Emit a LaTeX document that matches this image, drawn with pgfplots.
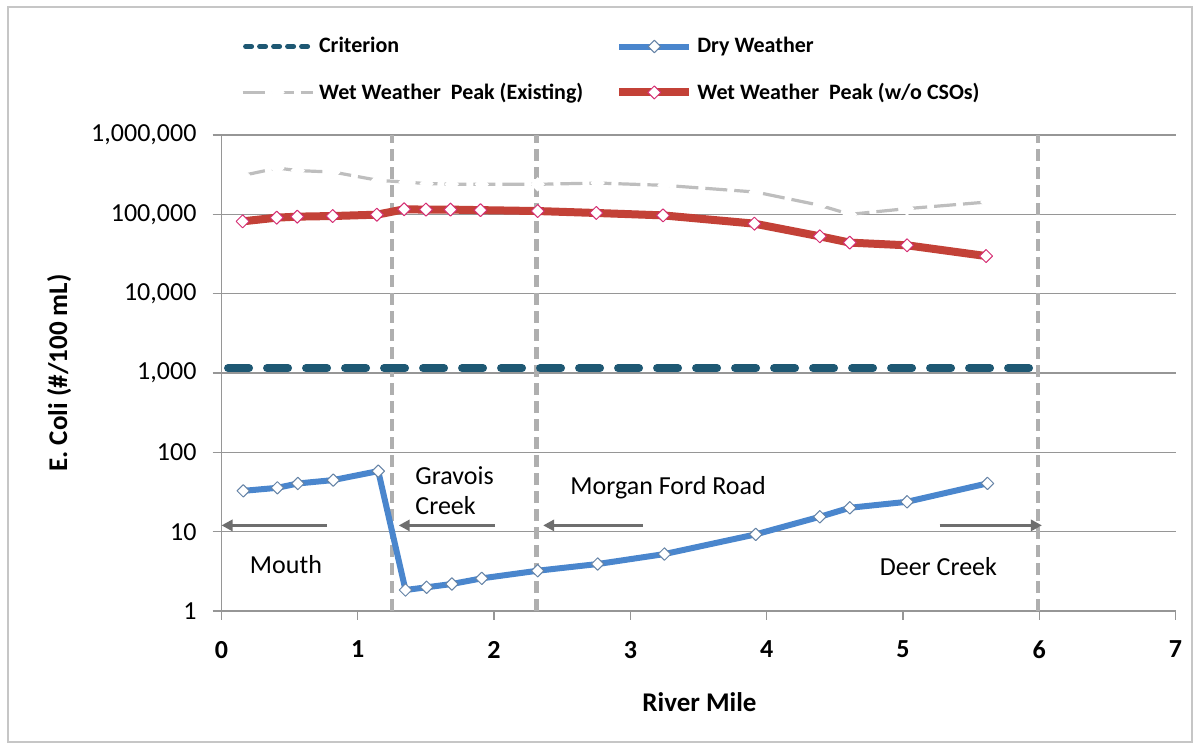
\documentclass[border=0pt]{standalone}
\usepackage{pgfplots}
\pgfplotsset{compat=1.18}
\usepackage{fontspec}
\setmainfont{Carlito}
\usetikzlibrary{arrows.meta}
\definecolor{crit}{RGB}{30,88,115}
\definecolor{dryc}{RGB}{74,134,205}
\definecolor{wetc}{RGB}{195,65,55}
\definecolor{exc}{RGB}{190,190,190}
\definecolor{vline}{RGB}{175,175,175}
\definecolor{arr}{RGB}{110,110,110}
\definecolor{gridc}{RGB}{150,150,150}
\begin{document}
\begin{tikzpicture}
\useasboundingbox (0pt,0pt) rectangle (598.5pt,372pt);
\draw[gray!45, line width=0.8pt] (4pt,368.5pt) rectangle (596pt,1pt);
\begin{axis}[
  at={(110.75pt,66.5pt)}, anchor=south west,
  scale only axis, width=477pt, height=238pt,
  xmin=0, xmax=7, ymode=log, ymin=1, ymax=1e6,
  axis lines=left, axis line style={-, draw=gridc, line width=0.7pt},
  xtick={0,1,2,3,4,5,6,7},
  ytick={1,10,100,1000,10000,100000,1000000},
  yticklabels={1,10,100,{1,000},{10,000},{100,000},{1,000,000}},
  yminorticks=false,
  ymajorgrids, grid style={draw=gridc, line width=0.6pt},
  tick align=outside, major tick length=4.5pt,
  tick style={draw=gridc, line width=0.7pt},
  xticklabel style={font=\fontsize{13}{15}\selectfont\bfseries, yshift=-7pt},
  yticklabel style={font=\fontsize{13}{15}\selectfont, xshift=-4.5pt},
  /pgf/number format/assume math mode=true,
  xlabel={River Mile}, ylabel={E. Coli (\#/100 mL)},
  label style={font=\fontsize{13.5}{16}\selectfont\bfseries},
  xlabel style={at={(axis description cs:0.501,-0.1905)}, anchor=center},
  ylabel style={at={(axis description cs:-0.1703,0.5)}, anchor=center},
  clip=false,
  legend columns=2,
  legend cell align=left,
  legend style={at={(axis description cs:0.02,1.2145)}, anchor=north west, draw=none, fill=none,
    font=\fontsize{11}{13}\selectfont\bfseries, inner sep=0pt, row sep=9.5pt,
    /tikz/every even column/.append style={column sep=14pt}},
  legend image code/.code={\draw[mark repeat=2,mark phase=2,#1] plot coordinates {(0pt,0pt) (17.5pt,0pt) (35pt,0pt)};},
]
% location markers
\addplot[vline, line width=2.3pt, dash pattern=on 6pt off 3pt, forget plot] coordinates {(1.25,1) (1.25,1000000)};
\addplot[vline, line width=2.3pt, dash pattern=on 6pt off 3pt, forget plot] coordinates {(2.31,1) (2.31,1000000)};
\addplot[vline, line width=2.3pt, dash pattern=on 6pt off 3pt, forget plot] coordinates {(5.99,1) (5.99,1000000)};
% arrows
\addplot[arr, line width=1.5pt, -{Triangle[length=5.5pt,width=5.5pt]}, forget plot] coordinates {(0.775,12) (0.0,12)};
\addplot[arr, line width=1.5pt, -{Triangle[length=5.5pt,width=5.5pt]}, forget plot] coordinates {(2.007,12) (1.30,12)};
\addplot[arr, line width=1.5pt, -{Triangle[length=5.5pt,width=5.5pt]}, forget plot] coordinates {(3.09,12) (2.36,12)};
\addplot[arr, line width=1.5pt, -{Triangle[length=5.5pt,width=5.5pt]}, forget plot] coordinates {(5.27,12) (6.02,12)};
% criterion
\addplot[crit, line width=4pt, dash pattern=on 10.5pt off 9pt, line cap=round,
  legend image code/.code={\draw[crit, line width=2.5pt, line cap=round, dash pattern=on 3pt off 4pt] (1.5pt,0pt) -- (35pt,0pt);}]
  coordinates {(0.048,1150) (5.925,1150)};
\addlegendentry{Criterion}
% dry weather
\addplot[dryc, line width=3pt, line join=round, mark=square*, mark size=2.2pt,
  mark options={rotate=45, fill=white, draw=dryc!50!gray, line width=0.5pt, solid}]
  coordinates {
  (0.16,32.7) (0.41,35.7) (0.56,40.5) (0.82,44.7) (1.15,58)
  (1.35,1.84) (1.505,1.99) (1.69,2.19) (1.91,2.58) (2.32,3.22)
  (2.76,3.91) (3.25,5.22) (3.92,9.25) (4.39,15.4) (4.61,20)
  (5.03,23.8) (5.62,40.6)};
\addlegendentry{Dry Weather}
% wet weather existing
\addplot[exc, line width=1.6pt, dash pattern=on 11pt off 3.5pt, mark=square*, mark size=2.3pt,
  mark options={rotate=45, fill=white, draw=white, line width=0.5pt, solid}]
  coordinates {
  (0.16,310000) (0.41,383000) (0.56,356000) (0.82,341000) (1.15,268000)
  (1.35,255000) (1.505,244000) (1.69,240000) (1.91,239000) (2.32,239000)
  (2.76,248000) (3.25,232000) (3.92,191000) (4.39,130000) (4.61,100000)
  (5.03,118000) (5.62,143000)};
\addlegendentry{Wet Weather\ \ Peak (Existing)}
% wet weather w/o CSOs
\addplot[wetc, line width=4pt, line join=round, mark=square*, mark size=2.3pt,
  mark options={rotate=45, fill=white, draw=wetc!70!magenta, line width=0.5pt, solid}]
  coordinates {
  (0.155,81600) (0.405,90800) (0.556,93500) (0.816,95200) (1.14,99000)
  (1.34,115700) (1.50,114700) (1.68,114700) (1.90,113000) (2.32,110000)
  (2.75,104000) (3.24,97000) (3.91,76300) (4.39,52800) (4.61,44000)
  (5.03,40700) (5.61,29800)};
\addlegendentry{Wet Weather\ \ Peak (w/o CSOs)}
% annotations
\node[font=\fontsize{13}{15}\selectfont, anchor=center] at (axis cs:0.473,3.8) {Mouth};
\node[font=\fontsize{13}{15}\selectfont, anchor=west, align=left, inner sep=0pt] at (axis cs:1.42,32.5) {Gravois\\Creek};
\node[font=\fontsize{13}{15}\selectfont, anchor=west, inner sep=0pt] at (axis cs:2.557,35.4) {Morgan Ford Road};
\node[font=\fontsize{13}{15}\selectfont, anchor=center] at (axis cs:5.26,3.61) {Deer Creek};
\end{axis}
\end{tikzpicture}
\end{document}
